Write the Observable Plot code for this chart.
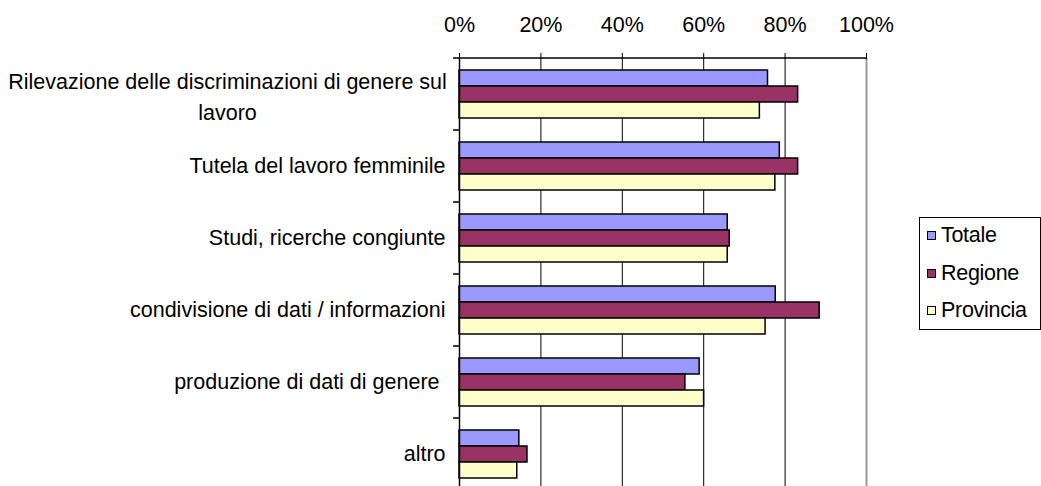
<!DOCTYPE html>
<html>
<head>
<meta charset="utf-8">
<script src="https://cdn.jsdelivr.net/npm/d3@7"></script>
<script src="https://cdn.jsdelivr.net/npm/@observablehq/plot@0.6"></script>
<style>
  html, body { margin: 0; padding: 0; background: #fff; overflow: hidden; }
  #wrap { position: relative; width: 1041px; height: 486px; }
  #legend { position: absolute; left: 919px; top: 217px; width: 122px; height: 113px;
            border: 1px solid #000; box-sizing: border-box; background: #fff;
            font-family: "Liberation Sans", Arial, sans-serif; font-size: 21.5px; letter-spacing: -0.3px; color: #000; }
  .item { position: absolute; left: 7px; height: 22px; line-height: 22px; white-space: nowrap; }
  .sw { display: inline-block; width: 7px; height: 7px; border: 1px solid #000; margin-right: 5px; vertical-align: 2px; }
</style>
</head>
<body>
<div id="wrap"></div>
<script>
const categories = [
  "Rilevazione delle discriminazioni di genere sul\nlavoro",
  "Tutela del lavoro femminile",
  "Studi, ricerche congiunte",
  "condivisione di dati / informazioni",
  "produzione di dati di genere ",
  "altro"
];
const series = ["Totale", "Regione", "Provincia"];
const totale    = [0.758, 0.787, 0.659, 0.777, 0.590, 0.147];
const regione   = [0.832, 0.832, 0.664, 0.885, 0.555, 0.167];
const provincia = [0.738, 0.776, 0.659, 0.752, 0.601, 0.142];
const colors = ["#9999FF", "#993366", "#FFFFCC"];
const xTicks = [0, 0.2, 0.4, 0.6, 0.8, 1];

const values = [totale, regione, provincia];
const data = [];
categories.forEach((c, i) => series.forEach((s, j) => data.push({category: c, series: s, value: values[j][i]})));

const chart = Plot.plot({
  width: 1041,
  height: 490,
  marginLeft: 459,
  marginRight: 175,
  marginTop: 58,
  marginBottom: 0,
  style: {fontFamily: "Liberation Sans, Arial, sans-serif", fontSize: "21.5px", background: "#fff", color: "#000"},
  x: {domain: [0, 1], axis: null},
  y: {domain: series, paddingInner: 0, paddingOuter: 0.75, axis: null},
  fy: {domain: categories, paddingInner: 0, paddingOuter: 0, axis: null},
  color: {domain: series, range: colors},
  marks: [
    Plot.ruleX(xTicks.filter(t => t > 0 && t < 1), {stroke: "#000", strokeWidth: 1}),
    Plot.ruleX([1], {stroke: "#999", strokeWidth: 2}),
    Plot.barX(data, {fy: "category", y: "series", x: "value", fill: "series", stroke: "#000", strokeWidth: 1.5}),
    Plot.ruleX([0], {stroke: "#000", strokeWidth: 1.5}),
    Plot.axisX({anchor: "top", ticks: xTicks, tickFormat: d3.format(".0%"), tickSize: 6, tickPadding: 21, label: null, stroke: "#000", fill: "#000"}),
    Plot.text(categories, {fy: d => d, text: d => d, filter: d => !d.includes("\n"),
      frameAnchor: "left", textAnchor: "end", dx: -14, fill: "#000"}),
    Plot.text(categories, {fy: d => d, text: d => d, filter: d => d.includes("\n"),
      frameAnchor: "left", textAnchor: "middle", dx: -232, lineHeight: 1.47, fill: "#000"})
  ]
});

// axis line on top and category tick marks at band boundaries (from the plot's own scales)
const xs = chart.scale("x"), fys = chart.scale("fy");
const x = d3.scaleLinear(xs.domain, xs.range);
const fy = d3.scaleBand(fys.domain, fys.range).paddingInner(0).paddingOuter(0);
const g = d3.select(chart).append("g").attr("stroke", "#000").attr("stroke-width", 1.5);
g.append("line").attr("x1", x(0) - 6).attr("x2", x(1)).attr("y1", fy.range()[0]).attr("y2", fy.range()[0]);
categories.forEach(c => {
  const b = fy(c) + fy.bandwidth();
  g.append("line").attr("x1", x(0) - 6).attr("x2", x(0)).attr("y1", b).attr("y2", b);
});

const wrap = document.getElementById("wrap");
wrap.appendChild(chart);
const legend = document.createElement("div");
legend.id = "legend";
const tops = [6, 44, 81];
series.forEach((s, i) => {
  const it = document.createElement("div");
  it.className = "item";
  it.style.top = tops[i] + "px";
  it.innerHTML = `<span class="sw" style="background:${colors[i]}"></span>${s}`;
  legend.appendChild(it);
});
wrap.appendChild(legend);
</script>
</body>
</html>
